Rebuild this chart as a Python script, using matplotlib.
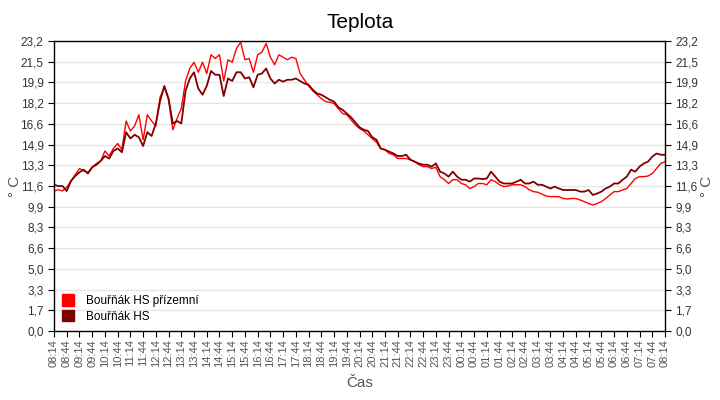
import pandas as pd
import numpy as np
import matplotlib.pyplot as plt
import matplotlib.dates as mdates
from matplotlib.patches import Patch

# Hodnoty, krok 10 minut od 08:14
prizemni = [11.2, 11.3, 11.2, 11.5, 12.0, 12.5, 13.0, 12.8, 12.7, 13.1,
            13.4, 13.6, 14.4, 14.0, 14.6, 15.0, 14.5, 16.8, 16.0, 16.4,
            17.3, 15.3, 17.3, 16.8, 16.4, 18.7, 19.5, 18.5, 16.1, 17.0,
            17.8, 20.0, 21.0, 21.5, 20.7, 21.5, 20.6, 22.1, 21.8, 22.1,
            20.0, 21.7, 21.5, 22.6, 23.1, 21.7, 21.8, 20.7, 22.1, 22.3,
            23.0, 21.9, 21.3, 22.1, 21.9, 21.7, 21.9, 21.8, 20.6, 20.1,
            19.6, 19.2, 18.9, 18.6, 18.35, 18.3, 18.2, 17.8, 17.4, 17.3,
            16.9, 16.5, 16.2, 16.0, 15.7, 15.4, 15.1, 14.6, 14.5, 14.2,
            14.1, 13.8, 13.8, 13.8, 13.7, 13.55, 13.3, 13.15, 13.15, 13.0,
            13.1, 12.35, 12.1, 11.8, 12.1, 12.1, 11.8, 11.7, 11.4, 11.55,
            11.8, 11.8, 11.7, 12.1, 11.95, 11.7, 11.55, 11.6, 11.7, 11.7,
            11.7, 11.55, 11.3, 11.15, 11.1, 10.95, 10.8, 10.75, 10.75, 10.75,
            10.6, 10.56, 10.6, 10.6, 10.48, 10.35, 10.2, 10.08, 10.2, 10.35,
            10.6, 10.88, 11.15, 11.15, 11.28, 11.4, 11.8, 12.2, 12.35, 12.35,
            12.4, 12.6, 13.0, 13.4, 13.55]

hs = [11.7, 11.6, 11.6, 11.2, 12.0, 12.4, 12.7, 12.9, 12.6, 13.1,
      13.3, 13.6, 14.0, 13.8, 14.4, 14.6, 14.3, 15.9, 15.4, 15.7,
      15.5, 14.8, 15.9, 15.6, 16.6, 18.4, 19.6, 18.6, 16.6, 16.8,
      16.6, 19.2, 20.2, 20.7, 19.4, 18.9, 19.6, 20.8, 20.5, 20.5,
      18.8, 20.2, 20.0, 20.7, 20.7, 20.2, 20.3, 19.5, 20.5, 20.6,
      21.0, 20.2, 19.8, 20.1, 19.95, 20.1, 20.1, 20.2, 20.0, 19.8,
      19.7, 19.3, 19.0, 18.9, 18.7, 18.5, 18.35, 17.9, 17.7, 17.4,
      17.1, 16.7, 16.3, 16.1, 16.0, 15.5, 15.3, 14.6, 14.5, 14.35,
      14.2, 14.0, 14.0, 14.1, 13.7, 13.55, 13.4, 13.3, 13.3, 13.15,
      13.4, 12.75, 12.6, 12.35, 12.75, 12.35, 12.1, 12.1, 11.95, 12.2,
      12.2, 12.15, 12.2, 12.75, 12.35, 11.95, 11.8, 11.8, 11.8, 11.95,
      12.1, 11.8, 11.8, 11.95, 11.7, 11.7, 11.55, 11.4, 11.55, 11.4,
      11.28, 11.28, 11.28, 11.28, 11.15, 11.15, 11.28, 10.88, 11.0, 11.15,
      11.4, 11.55, 11.8, 11.8, 12.1, 12.35, 12.9, 12.75, 13.15, 13.4,
      13.55, 13.95, 14.2, 14.1, 14.1]

y_ticky = ['0,0', '1,7', '3,3', '5,0', '6,6', '8,3', '9,9', '11,6',
           '13,3', '14,9', '16,6', '18,2', '19,9', '21,5', '23,2']
y_max = 23.2

casy = pd.date_range('2023-01-01 08:14', periods=len(hs), freq='10min')
x_ticky = pd.date_range(casy[0], casy[-1], freq='30min')

plt.rcParams['font.family'] = ['Liberation Sans', 'DejaVu Sans']

fig = plt.figure(figsize=(7.2, 4), dpi=100)
ax = fig.add_axes([54 / 720, 69 / 400, 611 / 720, 290 / 400])

ax.plot(casy, prizemni, color='#ff0000', lw=1.0)
ax.plot(casy, hs, color='#800000', lw=1.3)

ax.set_xlim(casy[0], casy[-1])
ax.set_ylim(0, y_max)

# osa Y vlevo i vpravo
y_pos = np.linspace(0, y_max, len(y_ticky))
ax.set_yticks(y_pos)
ax.set_yticklabels(y_ticky)
ax.yaxis.grid(True, color='#e6e6e6', lw=1)
ax.set_axisbelow(True)
ax.tick_params(axis='y', which='both', left=True, right=True,
               labelleft=True, labelright=True, labelsize=8.5,
               colors='black', labelcolor='#333333', length=4, width=0.8)

ax.set_xticks(x_ticky)
ax.xaxis.set_major_formatter(mdates.DateFormatter('%H:%M'))
ax.tick_params(axis='x', labelsize=8, labelrotation=90, length=4,
               width=0.8, colors='black', labelcolor='#555555', pad=2)

for s in ax.spines.values():
    s.set_color('black')
    s.set_linewidth(1)

fig.text(15 / 720, 0.535, '° C', rotation=90, ha='center', va='center',
         fontsize=11, color='#555555')
fig.text(707 / 720, 0.535, '° C', rotation=90, ha='center', va='center',
         fontsize=11, color='#555555')

ax.set_xlabel('Čas', fontsize=11, color='#555555', labelpad=6)
fig.text(0.5, 0.945, 'Teplota', ha='center', va='center', fontsize=15)

handles = [Patch(color='#ff0000'), Patch(color='#800000')]
ax.legend(handles, ['Bouřňák HS přízemní', 'Bouřňák HS'], loc='lower left',
          frameon=False, fontsize=8.5, handlelength=1.0, handleheight=1.1,
          handletextpad=1.0, labelspacing=0.25, borderaxespad=0.3,
          bbox_to_anchor=(0.0, 0.0))

fig.savefig('out.png', dpi=100)
